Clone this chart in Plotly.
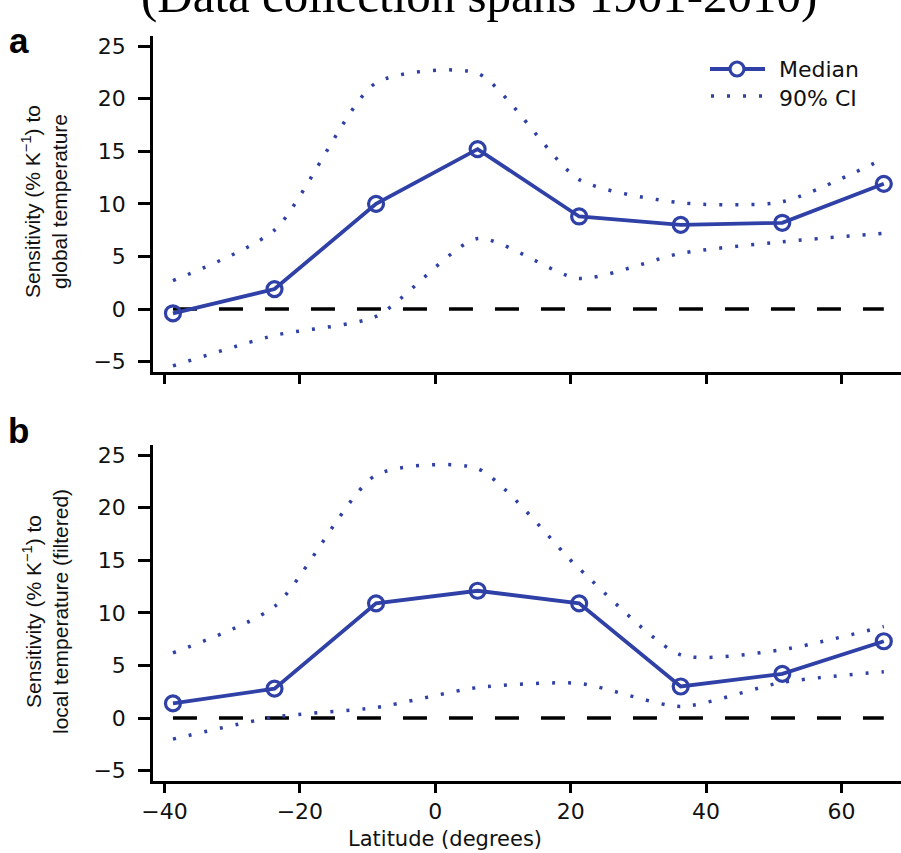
import plotly.graph_objects as go

# ---- data ----
lat = [-38.75, -23.75, -8.75, 6.25, 21.25, 36.25, 51.25, 66.25]

a_median = [-0.4, 1.9, 10.0, 15.2, 8.8, 8.0, 8.2, 11.9]
a_upper = [2.7, 7.5, 21.5, 22.4, 12.3, 10.1, 10.2, 14.3]
a_lower = [-5.4, -2.5, -0.7, 6.7, 2.9, 5.3, 6.4, 7.2]

b_median = [1.4, 2.8, 10.9, 12.1, 10.9, 3.0, 4.2, 7.3]
b_upper = [6.2, 10.6, 23.1, 23.7, 14.2, 6.0, 6.5, 8.7]
b_lower = [-2.0, 0.1, 1.0, 2.9, 3.3, 1.1, 3.4, 4.4]

x_ticks = [-40, -20, 0, 20, 40, 60]
x_ticktext = ["\u221240", "\u221220", "0", "20", "40", "60"]
y_ticks = [-5, 0, 5, 10, 15, 20, 25]
y_ticktext = ["\u22125", "0", "5", "10", "15", "20", "25"]

W, H = 901, 853
BLUE = "#2F40A6"
FONT = "Liberation Sans"
UFONT = "DejaVu Sans"

def py(p):
    return (H - p) / H

def px(p):
    return p / W

fig = go.Figure()

for i, (med, up, lo) in enumerate([(a_median, a_upper, a_lower),
                                   (b_median, b_upper, b_lower)]):
    xa = "x" if i == 0 else "x2"
    ya = "y" if i == 0 else "y2"
    fig.add_trace(go.Scatter(x=[lat[0], lat[-1]], y=[0, 0], mode="lines",
                             line=dict(color="black", width=3.5, dash="24px,22px"),
                             xaxis=xa, yaxis=ya, showlegend=False, hoverinfo="skip"))
    for ci in (up, lo):
        fig.add_trace(go.Scatter(x=lat, y=ci, mode="lines",
                                 line=dict(color=BLUE, width=3.5, dash="3px,13px",
                                           shape="spline", smoothing=0.65),
                                 xaxis=xa, yaxis=ya, name="90% CI", showlegend=False))
    fig.add_trace(go.Scatter(x=lat, y=med, mode="lines+markers",
                             line=dict(color=BLUE, width=3.8),
                             marker=dict(symbol="circle-open", size=15, color=BLUE,
                                         line=dict(width=3.2, color=BLUE)),
                             xaxis=xa, yaxis=ya, name="Median", showlegend=False))

xdom = [153 / W, 1.0]
ydom_a = [py(372), py(36)]
ydom_b = [py(781), py(445)]
xr = [(153 - 435.3) / 6.77, (901 - 435.3) / 6.77]
yr = [-5.98, 25.95]

axis_common = dict(showgrid=False, zeroline=False, showline=True, linecolor="black",
                   linewidth=2.5, ticks="outside", tickcolor="black", tickwidth=2.5,
                   automargin=False,
                   tickfont=dict(family=UFONT, size=22, color="#111"))

fig.update_layout(
    width=W, height=H, margin=dict(l=0, r=0, t=0, b=0, autoexpand=False),
    paper_bgcolor="white", plot_bgcolor="white", showlegend=False,
    xaxis=dict(domain=xdom, range=xr, tickvals=x_ticks, showticklabels=False,
               ticklen=9, anchor="y", **axis_common),
    yaxis=dict(domain=ydom_a, range=yr, tickvals=y_ticks, ticktext=y_ticktext,
               ticklen=12, ticklabelstandoff=8, anchor="x", **axis_common),
    xaxis2=dict(domain=xdom, range=xr, tickvals=x_ticks, ticktext=x_ticktext,
                ticklen=9, ticklabelstandoff=0, anchor="y2", **axis_common),
    yaxis2=dict(domain=ydom_b, range=yr, tickvals=y_ticks, ticktext=y_ticktext,
                ticklen=12, ticklabelstandoff=8, anchor="x2", **axis_common),
)

# legend drawn by hand (longer sample line as in the reference)
shapes = [
    dict(type="line", xref="paper", yref="paper", x0=px(710), x1=px(765),
         y0=py(69), y1=py(69), line=dict(color=BLUE, width=3.8)),
    dict(type="circle", xref="paper", yref="paper", xsizemode="pixel", ysizemode="pixel",
         xanchor=px(737), yanchor=py(69), x0=-7, x1=7, y0=-7, y1=7,
         line=dict(color=BLUE, width=3.2), fillcolor="white"),
    dict(type="line", xref="paper", yref="paper", x0=px(711), x1=px(766),
         y0=py(96), y1=py(96), line=dict(color=BLUE, width=3.5, dash="3px,13px")),
]
fig.update_layout(shapes=shapes)

ann = [
    dict(text="(Data collection spans 1901-2010)", x=479 / W, y=py(25), xref="paper",
         yref="paper", xanchor="center", yanchor="bottom", showarrow=False,
         font=dict(family="Liberation Serif", size=49, color="black")),
    dict(text="<b>a</b>", x=px(7), y=py(62), xref="paper", yref="paper",
         xanchor="left", yanchor="bottom", showarrow=False,
         font=dict(family=FONT, size=35, color="black")),
    dict(text="<b>b</b>", x=px(6), y=py(452), xref="paper", yref="paper",
         xanchor="left", yanchor="bottom", showarrow=False,
         font=dict(family=FONT, size=35, color="black")),
    dict(text="Median", x=px(777), y=py(70), xref="paper", yref="paper",
         xanchor="left", yanchor="middle", showarrow=False,
         font=dict(family=UFONT, size=22, color="#111")),
    dict(text="90% CI", x=px(777), y=py(98), xref="paper", yref="paper",
         xanchor="left", yanchor="middle", showarrow=False,
         font=dict(family=UFONT, size=22, color="#111")),
    dict(text="Sensitivity (% K<sup>\u22121</sup>) to<br>global temperature",
         x=px(45), y=py(202), xref="paper", yref="paper", textangle=-90,
         xanchor="center", yanchor="middle", showarrow=False,
         font=dict(family=FONT, size=21, color="#111")),
    dict(text="Sensitivity (% K<sup>\u22121</sup>) to<br>local temperature (filtered)",
         x=px(45), y=py(612), xref="paper", yref="paper", textangle=-90,
         xanchor="center", yanchor="middle", showarrow=False,
         font=dict(family=FONT, size=21, color="#111")),
    dict(text="Latitude (degrees)", x=px(445), y=py(839), xref="paper", yref="paper",
         xanchor="center", yanchor="middle", showarrow=False,
         font=dict(family=UFONT, size=21, color="#111")),
]
fig.update_layout(annotations=ann)

fig.write_html("out.html")
